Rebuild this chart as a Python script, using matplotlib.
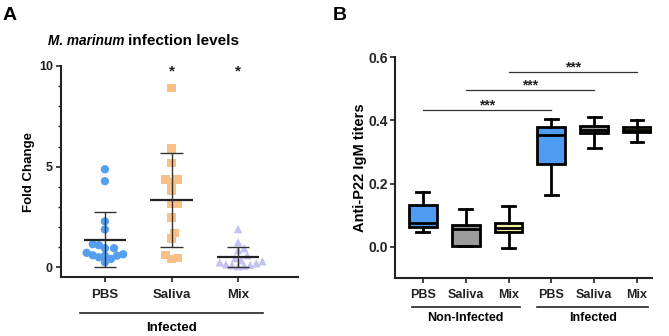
import numpy as np
import matplotlib
import matplotlib.pyplot as plt

matplotlib.use('Agg')

plt.rcParams['font.family'] = ['Liberation Sans', 'DejaVu Sans']
plt.rcParams['font.weight'] = 'bold'

# Panel A: fold change of M. marinum load per animal
groups_a = ['PBS', 'Saliva', 'Mix']
pbs_fold = [4.87, 4.28, 2.28, 1.88, 1.15, 1.10, 0.95, 0.95, 0.72, 0.65, 0.60, 0.58, 0.58, 0.50, 0.42, 0.25]
saliva_fold = [8.92, 5.91, 5.18, 4.37, 4.37, 4.22, 3.82, 3.17, 3.17, 2.48, 1.71, 1.43, 0.60, 0.47, 0.42]
mix_fold = [1.90, 1.25, 0.95, 0.85, 0.60, 0.45, 0.35, 0.30, 0.25, 0.20, 0.15, 0.12, 0.10, 0.08, 0.05]

# Panel B: anti-P22 IgM box summaries
groups_b = ['PBS', 'Saliva', 'Mix', 'PBS', 'Saliva', 'Mix']
igm_min = [0.046, 0.002, -0.003, 0.163, 0.312, 0.333]
igm_q1 = [0.061, 0.002, 0.046, 0.262, 0.359, 0.362]
igm_med = [0.075, 0.057, 0.059, 0.355, 0.371, 0.370]
igm_q3 = [0.131, 0.068, 0.076, 0.379, 0.381, 0.380]
igm_max = [0.172, 0.119, 0.129, 0.405, 0.410, 0.402]
sig_pairs = [(1, 4), (2, 5), (3, 6)]
sig_heights = [0.433, 0.495, 0.553]

W, H = 669, 336
fig = plt.figure(figsize=(W / 100, H / 100), dpi=100)


def px_axes(left, top, right, bottom):
    return fig.add_axes([left / W, 1 - bottom / H, (right - left) / W, (bottom - top) / H])


def swarm_x(ax, x0, values, diam):
    """spread points sideways so markers barely overlap (pixel space)"""
    tr = ax.transData
    inv = tr.inverted()
    xs = np.zeros(len(values))
    placed = []
    step = diam * 0.4
    for i in np.argsort(values):
        cx, cy = tr.transform((x0, values[i]))
        k = 0
        found = None
        while found is None:
            cands = [0.0] if k == 0 else [k * step, -k * step]
            for c in cands:
                if all(np.hypot(cx + c - px, cy - py) >= diam * 0.8 for px, py in placed):
                    found = c
                    break
            k += 1
        placed.append((cx + found, cy))
        xs[i] = inv.transform((cx + found, cy))[0]
    return xs


def style_axes(ax, fs):
    for s in ['top', 'right']:
        ax.spines[s].set_visible(False)
    for s in ['left', 'bottom']:
        ax.spines[s].set_linewidth(1.5)
        ax.spines[s].set_color('#222222')
    ax.tick_params(width=1.2, length=3.8, colors='#222222', labelsize=fs)


# ---------- A ----------
axA = px_axes(61, 66, 298, 277)
axA.set_xlim(0.34, 3.9)
axA.set_ylim(-0.48, 10)
style_axes(axA, 9.5)

colors_a = ['#559ff0', '#f8bf87', '#c3c3f2']
markers_a = ['o', 's', '^']
for i, (vals, col, mk) in enumerate(zip([pbs_fold, saliva_fold, mix_fold], colors_a, markers_a)):
    vals = np.array(vals)
    xs = swarm_x(axA, i + 1, vals, 7.6)
    axA.scatter(xs, vals, s=36, marker=mk, color=col, edgecolors='none', zorder=2)
    m = vals.mean()
    sd = vals.std(ddof=1)
    axA.hlines(m, i + 1 - 0.32, i + 1 + 0.32, color='#222222', lw=1.6, zorder=3)
    axA.vlines(i + 1, max(m - sd, 0), m + sd, color='#333333', lw=1.0, zorder=3)
    axA.hlines([max(m - sd, 0), m + sd], i + 1 - 0.17, i + 1 + 0.17, color='#333333', lw=1.0, zorder=3)

axA.set_xticks([1, 2, 3])
axA.set_xticklabels(groups_a)
axA.set_yticks([0, 5, 10])
axA.set_yticks(np.arange(0, 11, 1), minor=True)
axA.tick_params(axis='y', which='minor', length=2.5, width=1.0, colors='#222222')
axA.tick_params(axis='y', labelsize=9)
axA.tick_params(axis='x', pad=5)
axA.tick_params(axis='y', pad=2)
axA.set_ylabel('Fold Change', fontsize=9.5, fontweight='bold', labelpad=3)

for x in [2, 3]:
    axA.text(x, 9.75, '*', ha='center', va='center', fontsize=11, color='#222222')

tfA = axA.get_xaxis_transform()
axA.plot([0.62, 3.38], [-0.171, -0.171], transform=tfA, color='#222222', lw=1.2, clip_on=False)
axA.text(2, -0.24, 'Infected', transform=tfA, ha='center', va='center', fontsize=9.5)

fig.text(125 / W, 1 - 41 / H, 'M. marinum', ha='right', va='center', fontsize=9.8,
         fontweight='bold', style='italic')
fig.text(128 / W, 1 - 41 / H, 'infection levels', ha='left', va='center', fontsize=11,
         fontweight='bold')
fig.text(3 / W, 1 - 15 / H, 'A', ha='left', va='center', fontsize=14, fontweight='bold')

# ---------- B ----------
axB = px_axes(395, 57.3, 652, 278.3)
axB.set_xlim(0.35, 6.35)
axB.set_ylim(-0.1, 0.6)
style_axes(axB, 9)

stats = []
for lo, q1, med, q3, hi in zip(igm_min, igm_q1, igm_med, igm_q3, igm_max):
    stats.append(dict(whislo=lo, q1=q1, med=med, q3=q3, whishi=hi, fliers=[]))
bp = axB.bxp(stats, positions=range(1, 7), widths=0.65, capwidths=0.3, patch_artist=True,
             showfliers=False,
             boxprops=dict(linewidth=2.0, edgecolor='black'),
             medianprops=dict(color='black', linewidth=2.0),
             whiskerprops=dict(color='black', linewidth=2.0),
             capprops=dict(color='black', linewidth=2.0))
box_colors = ['#4f9cf5', '#9b9b9b', '#f4eea0', '#4f9cf5', '#9b9b9b', '#f4eea0']
for patch, c in zip(bp['boxes'], box_colors):
    patch.set_facecolor(c)

for (a, b), h in zip(sig_pairs, sig_heights):
    axB.plot([a, b], [h, h], color='#333333', lw=0.9)
    axB.text((a + b) / 2, h + 0.016, '***', ha='center', va='center', fontsize=10, color='#222222')

axB.set_xticks(range(1, 7))
axB.set_xticklabels(groups_b)
axB.set_yticks([0.0, 0.2, 0.4, 0.6])
axB.set_yticklabels(['0.0', '0.2', '0.4', '0.6'])
axB.tick_params(axis='y', labelsize=10)
axB.tick_params(axis='x', pad=4)
axB.tick_params(axis='y', pad=1.5)
axB.set_ylabel('Anti-P22 IgM titers', fontsize=10.5, fontweight='bold', labelpad=1)

tfB = axB.get_xaxis_transform()
axB.plot([0.74, 3.26], [-0.13, -0.13], transform=tfB, color='#222222', lw=1.2, clip_on=False)
axB.plot([3.67, 6.26], [-0.13, -0.13], transform=tfB, color='#222222', lw=1.2, clip_on=False)
axB.text(2, -0.178, 'Non-Infected', transform=tfB, ha='center', va='center', fontsize=9)
axB.text(4.97, -0.178, 'Infected', transform=tfB, ha='center', va='center', fontsize=9)

fig.text(333 / W, 1 - 15 / H, 'B', ha='left', va='center', fontsize=14, fontweight='bold')

fig.savefig('out.png', dpi=100)
